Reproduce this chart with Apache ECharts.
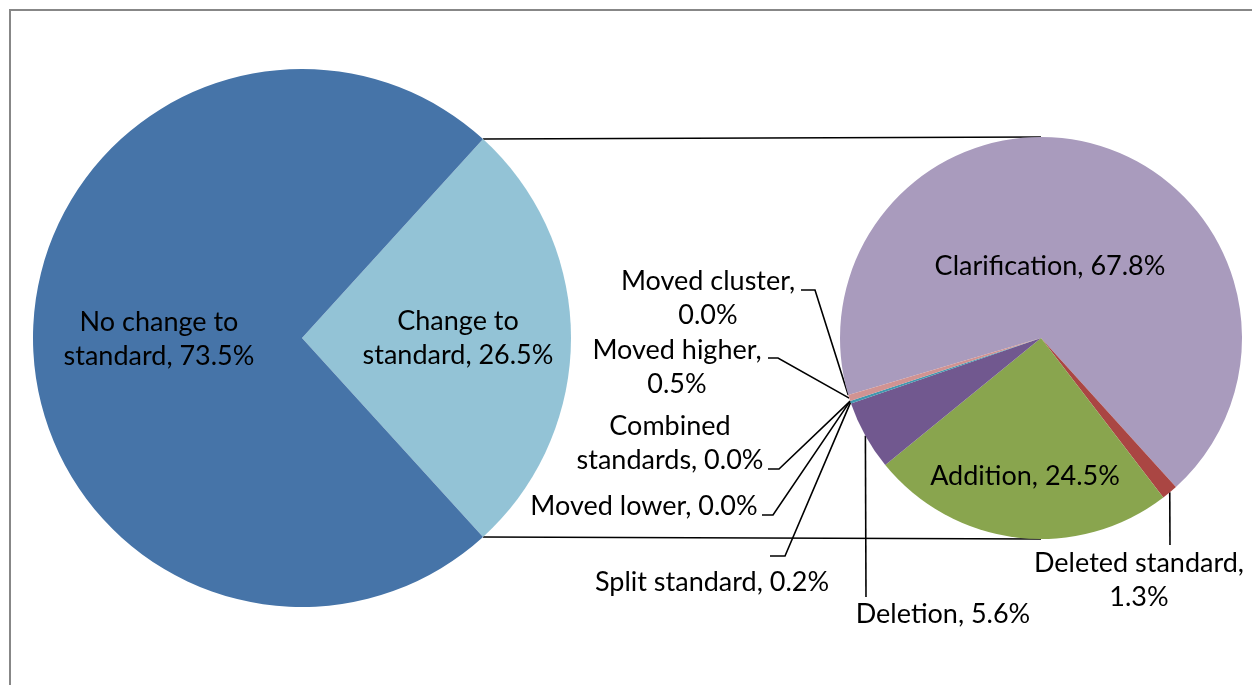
<!DOCTYPE html>
<html>
<head>
<meta charset="utf-8">
<script src="https://cdn.jsdelivr.net/npm/echarts@6/dist/echarts.min.js"></script>
<style>
  html, body { margin: 0; padding: 0; background: #fff; }
  #chart { width: 1252px; height: 685px; }
</style>
</head>
<body>
<div id="chart"></div>
<script>
// first pie: all standards
var mainNames = ['Change to standard', 'No change to standard'];
var mainValues = [26.5, 73.5];
var mainColors = ['#93C3D6', '#4674A8'];

// second pie: breakdown of "Change to standard"
var subNames = ['Clarification', 'Deleted standard', 'Addition', 'Deletion', 'Split standard',
                'Moved lower', 'Combined standards', 'Moved higher', 'Moved cluster'];
var subValues = [67.8, 1.3, 24.5, 5.6, 0.2, 0.0, 0.0, 0.5, 0.0];
var subColors = ['#A99BBD', '#AA4643', '#89A54E', '#71588F', '#4198AF',
                 '#DB843D', '#93A9CF', '#D19392', '#B9CD96'];

// geometry
var c1 = [302, 338], r1 = 269;
var c2 = [1041, 338], r2 = 201;
var sub0 = 196.5;

// how excel wraps the labels
var wrapName = {
  'No change to standard': 'No change to\nstandard',
  'Change to standard': 'Change to\nstandard',
  'Combined standards': 'Combined\nstandards'
};
var wrapAfterComma = { 'Moved cluster': 1, 'Moved higher': 1, 'Deleted standard': 1 };

// label centres and leader line bends [bend, end]
var spots = {
  'No change to standard': { p: [159, 339] },
  'Change to standard': { p: [458, 338] },
  'Clarification': { p: [1050, 266] },
  'Addition': { p: [1025, 476] },
  'Deleted standard': { p: [1139, 580], line: [[1170, 545]] },
  'Deletion': { p: [943, 614], line: [[866, 597]] },
  'Split standard': { p: [712, 582], line: [[785, 556], [770, 556]] },
  'Moved lower': { p: [644, 506], line: [[773, 515], [762, 515]] },
  'Combined standards': { p: [670, 443], line: [[779, 469], [768, 469]] },
  'Moved higher': { p: [677, 367], line: [[778, 358], [768, 358]] },
  'Moved cluster': { p: [708, 298], line: [[815, 290], [801, 290]] }
};

var insideNames = ['No change to standard', 'Change to standard', 'Clarification', 'Addition'];

function fmt(p) {
  var n = wrapName[p.name] || p.name;
  var sep = wrapAfterComma[p.name] ? ',\n' : ', ';
  return n + sep + Number(p.value).toFixed(1) + '%';
}

var leader = { color: '#000', width: 1.6 };

function build(names, values, colors) {
  return names.map(function (n, i) {
    var inside = insideNames.indexOf(n) >= 0;
    return {
      name: n,
      value: values[i],
      itemStyle: { color: colors[i] },
      label: { position: inside ? 'inside' : 'outside' },
      labelLine: { show: !inside, lineStyle: leader }
    };
  });
}

var labelStyle = {
  show: true,
  formatter: fmt,
  color: '#000',
  fontFamily: 'Lato',
  fontSize: 27,
  lineHeight: 34,
  align: 'center'
};

var chartDom = document.getElementById('chart');
var myChart = echarts.init(chartDom);

var mainSum = mainValues[0] + mainValues[1];
var half = mainValues[0] / mainSum * Math.PI;
var topA = [c1[0] + r1 * Math.cos(half), c1[1] - r1 * Math.sin(half)];
var botA = [c1[0] + r1 * Math.cos(half), c1[1] + r1 * Math.sin(half)];

// point on the rim of the second pie at the middle of slice idx
function subEdge(idx) {
  var sum = 0, before = 0;
  subValues.forEach(function (v, i) { sum += v; if (i < idx) before += v; });
  var mid = (sub0 - (before + subValues[idx] / 2) / sum * 360) * Math.PI / 180;
  return [c2[0] + r2 * Math.cos(mid), c2[1] - r2 * Math.sin(mid)];
}

function labelLayout(names) {
  return function (params) {
    var name = names[params.dataIndex];
    var s = spots[name];
    if (!s) return {};
    var out = { x: s.p[0], y: s.p[1], align: 'center', verticalAlign: 'middle' };
    if (s.line) {
      out.labelLinePoints = [subEdge(params.dataIndex)].concat(s.line);
    }
    return out;
  };
}

var option = {
  animation: false,
  backgroundColor: '#fff',
  graphic: [
    { type: 'rect', z: -10, shape: { x: 10, y: 10, width: 1400, height: 800 },
      style: { fill: 'none', stroke: '#878787', lineWidth: 2 } },
    { type: 'line', shape: { x1: topA[0], y1: topA[1], x2: c2[0], y2: c2[1] - r2 },
      style: { stroke: '#000', lineWidth: 1.6 } },
    { type: 'line', shape: { x1: botA[0], y1: botA[1], x2: c2[0], y2: c2[1] + r2 },
      style: { stroke: '#000', lineWidth: 1.6 } }
  ],
  series: [
    {
      type: 'pie',
      center: c1,
      radius: r1,
      startAngle: half * 180 / Math.PI,
      clockwise: true,
      avoidLabelOverlap: false,
      label: labelStyle,
      labelLayout: labelLayout(mainNames),
      emphasis: { disabled: true },
      itemStyle: { borderWidth: 0 },
      data: build(mainNames, mainValues, mainColors)
    },
    {
      type: 'pie',
      center: c2,
      radius: r2,
      startAngle: sub0,
      clockwise: true,
      minShowLabelAngle: 0,
      avoidLabelOverlap: false,
      label: labelStyle,
      labelLine: { show: true, length: 10, length2: 10, lineStyle: leader },
      labelLayout: labelLayout(subNames),
      emphasis: { disabled: true },
      itemStyle: { borderWidth: 0 },
      data: build(subNames, subValues, subColors)
    }
  ]
};

myChart.setOption(option);
window.addEventListener('resize', function () { myChart.resize(); });
</script>
</body>
</html>
